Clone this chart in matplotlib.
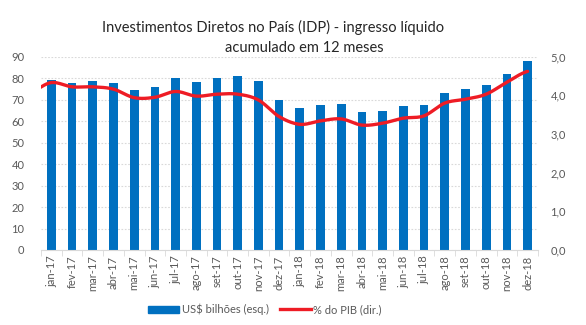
import numpy as np
import matplotlib.pyplot as plt
from matplotlib.lines import Line2D
from matplotlib.patches import Patch
from matplotlib.ticker import FuncFormatter

plt.rcParams['font.family'] = ['Lato', 'DejaVu Sans']

# Monthly data, jan-17 .. dez-18
months = ['jan-17', 'fev-17', 'mar-17', 'abr-17', 'mai-17', 'jun-17',
          'jul-17', 'ago-17', 'set-17', 'out-17', 'nov-17', 'dez-17',
          'jan-18', 'fev-18', 'mar-18', 'abr-18', 'mai-18', 'jun-18',
          'jul-18', 'ago-18', 'set-18', 'out-18', 'nov-18', 'dez-18']
idp_usd = [79.1, 77.7, 78.7, 77.7, 74.5, 75.9, 80.1, 78.2, 80.1, 81.0, 78.7, 69.8,
           66.1, 67.5, 68.0, 64.2, 64.7, 67.0, 67.5, 73.1, 74.9, 76.8, 81.9, 88.0]
# % do PIB, with the dez-16 value first so the line runs in from the left edge
pib_prev = 4.09
idp_pib = [4.33, 4.22, 4.22, 4.16, 3.94, 3.95, 4.10, 3.98, 4.03, 4.03, 3.88, 3.45,
           3.25, 3.34, 3.39, 3.23, 3.28, 3.41, 3.47, 3.80, 3.90, 4.03, 4.34, 4.62]

blue = '#0070C0'
red = '#EE1C25'
grey_txt = '#595959'

fig = plt.figure(figsize=(5.86, 3.25), dpi=100)
ax = fig.add_axes([0.070, 0.2308, 0.848, 0.5948])
ax2 = ax.twinx()

x = np.arange(len(months))
ax.bar(x, idp_usd, width=0.42, color=blue, zorder=2)

# smooth line through the monthly points (Catmull-Rom style)
px = np.concatenate([[-1], x])
py = np.array([pib_prev] + idp_pib)
sx, sy = [], []
for i in range(len(px) - 1):
    p0 = py[max(i - 1, 0)]
    p1, p2 = py[i], py[i + 1]
    p3 = py[min(i + 2, len(py) - 1)]
    t = np.linspace(0, 1, 12, endpoint=False)
    yy = 0.5 * ((2 * p1) + (-p0 + p2) * t + (2 * p0 - 5 * p1 + 4 * p2 - p3) * t ** 2
                + (-p0 + 3 * p1 - 3 * p2 + p3) * t ** 3)
    sx.extend(px[i] + t)
    sy.extend(yy)
sx.append(px[-1])
sy.append(py[-1])
ax2.plot(sx, sy, color=red, lw=2.4, solid_capstyle='round', zorder=3)

ax.set_xlim(-0.5, len(months) - 0.5)
ax.set_ylim(0, 90)
ax2.set_ylim(0, 5)
ax.set_yticks(range(0, 91, 10))
ax2.set_yticks(range(0, 6))
ax2.yaxis.set_major_formatter(FuncFormatter(lambda v, _: f'{v:.1f}'.replace('.', ',')))

ax.set_xticks(x)
ax.set_xticklabels(months, rotation=90, fontsize=8, color=grey_txt)
ax.set_xticks(np.arange(-0.5, len(months), 1), minor=True)
ax.tick_params(axis='x', which='major', length=0, pad=4)
ax.tick_params(axis='x', which='minor', length=4, color='#D9D9D9')
ax.tick_params(axis='y', length=0, pad=12, labelsize=8, labelcolor=grey_txt)
ax2.tick_params(axis='y', length=0, pad=9, labelsize=8, labelcolor=grey_txt)

ax.yaxis.grid(True, color='#D9D9D9', linestyle=(0, (1.5, 1.5)), lw=0.8)
ax.set_axisbelow(True)
for a in (ax, ax2):
    for s in ('top', 'left', 'right'):
        a.spines[s].set_visible(False)
    a.spines['bottom'].set_color('#D9D9D9')
ax2.spines['bottom'].set_visible(False)

fig.text(0.466, 0.915, 'Investimentos Diretos no País (IDP) - ingresso líquido',
         ha='center', va='center', fontsize=10.5, color='#262626')
fig.text(0.519, 0.853, 'acumulado em 12 meses',
         ha='center', va='center', fontsize=10.5, color='#262626')

handles = [Patch(color=blue, label='US$ bilhões (esq.)'),
           Line2D([], [], color=red, lw=2.4, label='% do PIB (dir.)')]
fig.legend(handles=handles, loc='center', bbox_to_anchor=(0.452, 0.048), ncol=2,
           frameon=False, fontsize=8, handlelength=2.8, handleheight=0.6,
           handletextpad=0.2, columnspacing=1.0, labelcolor=grey_txt)

fig.savefig('out.png', dpi=100)
